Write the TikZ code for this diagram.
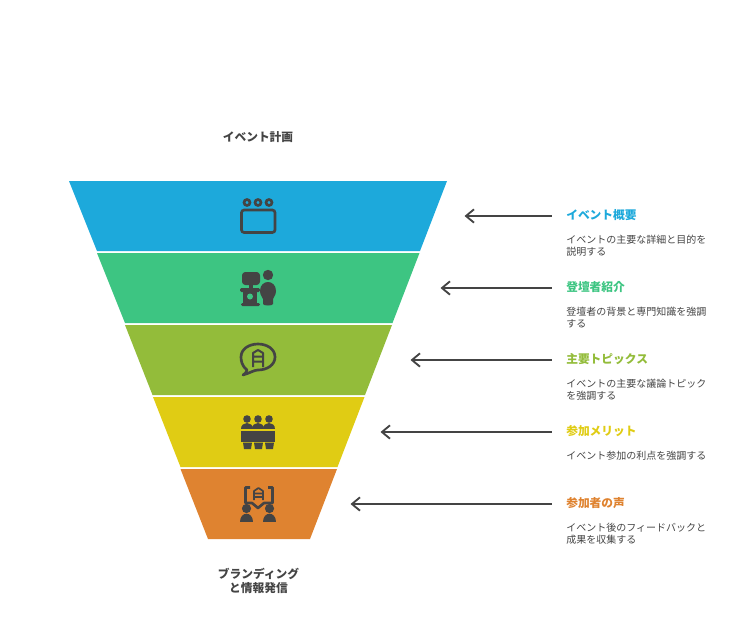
\documentclass[tikz,border=0pt]{standalone}
\usepackage{fontspec}
\setmainfont{Noto Sans CJK JP}
\usetikzlibrary{arrows.meta}
\definecolor{bandblue}{HTML}{1DA9DB}
\definecolor{bandgreen}{HTML}{3DC582}
\definecolor{bandolive}{HTML}{93BC3A}
\definecolor{bandyellow}{HTML}{E0CC14}
\definecolor{bandorange}{HTML}{DF8330}
\definecolor{inkgray}{HTML}{444444}
\begin{document}
\begin{tikzpicture}[
      x=0.75pt, y=-0.75pt,
      heading/.style = {font=\fontsize{8.8}{11}\selectfont\bfseries, text=inkgray, align=center, inner sep=0pt},
      itemtitle/.style = {font=\fontsize{8.8}{11}\selectfont\bfseries, anchor=west, inner sep=0pt},
      itemtext/.style = {font=\fontsize{7.5}{9}\selectfont, text=inkgray, anchor=north west, align=left, inner sep=0pt},
      pointer/.style = {draw=inkgray, line width=1.4pt, {Straight Barb[length=6pt,width=10pt]}-},
      iconline/.style = {draw=inkgray, line width=2pt, fill=none},
      iconfill/.style = {fill=inkgray, draw=none}
    ]
      \useasboundingbox (0,0) rectangle (756,632);

      \node[heading] (top) at (258,137) {イベント計画};
      \node[heading] (bottom) at (258.5,581) {ブランディング\\と情報発信};

      \fill[bandblue] (69,181) -- (447,181) -- (420,251) -- (97,251) -- cycle;
      \fill[bandgreen] (97,253) -- (419.5,253) -- (392.5,323) -- (125,323) -- cycle;
      \fill[bandolive] (125,325) -- (392,325) -- (365,395) -- (152.5,395) -- cycle;
      \fill[bandyellow] (153,397) -- (364.5,397) -- (337.5,467) -- (180.5,467) -- cycle;
      \fill[bandorange] (180.5,469) -- (337,469) -- (310,539) -- (208,539) -- cycle;

      \node[itemtitle, text=bandblue] (title1) at (566,215) {イベント概要};
      \node[itemtext] (text1) at (566,234.5) {イベントの主要な詳細と目的を\\説明する};
      \node[itemtitle, text=bandgreen] (title2) at (566,287) {登壇者紹介};
      \node[itemtext] (text2) at (566,306.5) {登壇者の背景と専門知識を強調\\する};
      \node[itemtitle, text=bandolive] (title3) at (566,359) {主要トピックス};
      \node[itemtext] (text3) at (566,378.5) {イベントの主要な議論トピック\\を強調する};
      \node[itemtitle, text=bandyellow] (title4) at (566,431) {参加メリット};
      \node[itemtext] (text4) at (566,450.5) {イベント参加の利点を強調する};
      \node[itemtitle, text=bandorange] (title5) at (566,503) {参加者の声};
      \node[itemtext] (text5) at (566,522.5) {イベント後のフィードバックと\\成果を収集する};

      \coordinate (tip1) at (464.5,216);
      \coordinate (tip2) at (440.5,288);
      \coordinate (tip3) at (410.5,360);
      \coordinate (tip4) at (380.5,432);
      \coordinate (tip5) at (350.5,504);
      \coordinate (tail1) at (552,216);
      \coordinate (tail2) at (552,288);
      \coordinate (tail3) at (552,360);
      \coordinate (tail4) at (552,432);
      \coordinate (tail5) at (552,504);
      \draw[pointer] (tip1) -- (tail1);
      \draw[pointer] (tip2) -- (tail2);
      \draw[pointer] (tip3) -- (tail3);
      \draw[pointer] (tip4) -- (tail4);
      \draw[pointer] (tip5) -- (tail5);

      % calendar
      \draw[iconline, rounded corners=2pt] (241.5,210) rectangle (275,232.5);
      \draw[iconline] (247,202.5) circle (3);
      \draw[iconline] (258,202.5) circle (3);
      \draw[iconline] (269,202.5) circle (3);

      % speaker
      \fill[iconfill, rounded corners=2.5pt] (242,272) rectangle (260,285);
      \fill[iconfill] (249,285) rectangle (253,288);
      \fill[iconfill, rounded corners=1pt] (240,288) rectangle (260,292);
      \fill[iconfill] (243,291) rectangle (257,303);
      \fill[iconfill, rounded corners=1pt] (241,303) rectangle (260,306);
      \fill[bandgreen] (250,296.5) circle (3);
      \fill[iconfill] (268,275) circle (5.2);
      \fill[iconfill] (260,291) .. controls (260,279) and (276,279) .. (276,291)
        .. controls (276,296) and (273,297) .. (273,299) -- (273,304)
        .. controls (273,306) and (263,306) .. (263,304) -- (263,299)
        .. controls (263,297) and (260,296) .. (260,291) -- cycle;

      % topic bubble
      \draw[iconline, line join=round] (247,370) .. controls (242,366) and (241,361) .. (241,357)
        .. controls (241,349) and (249,344) .. (258,344)
        .. controls (267,344) and (275,349) .. (275,357)
        .. controls (275,365) and (267,370) .. (258,370)
        .. controls (254,370) and (250,373) .. (243,375)
        .. controls (245,374) and (246,373) .. (247,370) -- cycle;
      \draw[iconline, line width=1.5pt, line join=round] (253,367) -- (253,353) -- (258,350) -- (263,353) -- (263,367)
        (253,356.5) -- (263,356.5) (253,361.5) -- (263,361.5);

      % people at a table
      \fill[iconfill] (247,419) circle (3.8);
      \fill[iconfill] (258,419) circle (3.8);
      \fill[iconfill] (269,419) circle (3.8);
      \fill[iconfill] (241,429) .. controls (241,421) and (253,421) .. (253,429) -- cycle;
      \fill[iconfill] (252,429) .. controls (252,421) and (264,421) .. (264,429) -- cycle;
      \fill[iconfill] (263,429) .. controls (263,421) and (275,421) .. (275,429) -- cycle;
      \fill[iconfill] (241,430.5) rectangle (275,441.5);
      \fill[iconfill] (243,442.5) -- (252,442.5) -- (251,449) -- (244,449) -- cycle;
      \fill[iconfill] (254,442.5) -- (263,442.5) -- (262,449) -- (255,449) -- cycle;
      \fill[iconfill] (265,442.5) -- (274,442.5) -- (273,449) -- (266,449) -- cycle;

      % voices
      \draw[iconline, line join=round] (250,487.5) -- (245.5,487.5) -- (245.5,503) -- (252,503) -- (258,508) -- (264,503) -- (272.5,503) -- (272.5,487.5) -- (268,487.5);
      \draw[iconline, line width=1.3pt, line join=round] (254,500) -- (254,491) -- (258.5,488) -- (263,491) -- (263,500)
        (254,493.5) -- (263,493.5) (254,497) -- (263,497);
      \fill[iconfill] (246.5,508.5) circle (4.6);
      \fill[iconfill] (269.5,508.5) circle (4.6);
      \fill[iconfill] (240,522) .. controls (240,511) and (253,511) .. (253,522) -- cycle;
      \fill[iconfill] (263,522) .. controls (263,511) and (276,511) .. (276,522) -- cycle;
  \end{tikzpicture}
\end{document}
